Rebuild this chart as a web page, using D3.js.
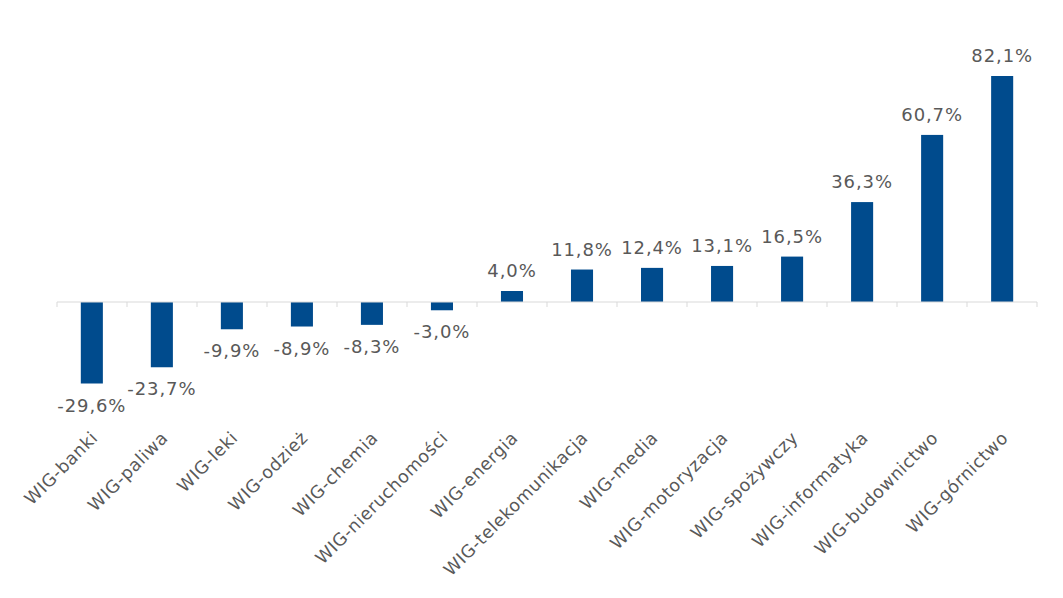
<!DOCTYPE html>
<html>
<head>
<meta charset="utf-8">
<script src="https://cdn.jsdelivr.net/npm/d3@7"></script>
<style>
  body { margin: 0; background: #fff; }
  text { font-family: "DejaVu Sans", Verdana, sans-serif; }
</style>
</head>
<body>
<svg id="chart" width="1063" height="598"></svg>
<script>
const categories = ["WIG-banki","WIG-paliwa","WIG-leki","WIG-odzież","WIG-chemia","WIG-nieruchomości","WIG-energia","WIG-telekomunikacja","WIG-media","WIG-motoryzacja","WIG-spożywczy","WIG-informatyka","WIG-budownictwo","WIG-górnictwo"];
const values = [-29.6,-23.7,-9.9,-8.9,-8.3,-3.0,4.0,11.8,12.4,13.1,16.5,36.3,60.7,82.1];

const svg = d3.select("#chart");
const x = d3.scaleBand().domain(categories).range([57, 1037]).paddingInner(0.685).paddingOuter(0.34);
const y = d3.scaleLinear().domain([-29.6, 82.1]).range([383.5, 76]);

const fmt = v => (v < 0 ? "-" : "") + Math.abs(v).toFixed(1).replace(".", ",") + "%";

// bars
svg.append("g").selectAll("rect").data(values).join("rect")
  .attr("x", (d,i) => x(categories[i]))
  .attr("width", x.bandwidth())
  .attr("y", d => y(Math.max(0, d)))
  .attr("height", d => Math.abs(y(d) - y(0)))
  .attr("fill", "#004B8D");

// axis line and ticks at band boundaries
const x0 = 57, x1 = 1037;
const axis = svg.append("g");
axis.append("line").attr("x1", x0).attr("x2", x1).attr("y1", y(0)).attr("y2", y(0))
  .attr("stroke", "#d9d9d9").attr("stroke-width", 1);
axis.selectAll("line.tick").data(d3.range(categories.length + 1)).join("line")
  .attr("class", "tick")
  .attr("x1", i => x0 + i * (x1 - x0) / categories.length)
  .attr("x2", i => x0 + i * (x1 - x0) / categories.length)
  .attr("y1", y(0)).attr("y2", y(0) + 5)
  .attr("stroke", "#d9d9d9").attr("stroke-width", 1);

// value labels
svg.append("g").selectAll("text").data(values).join("text")
  .attr("x", (d,i) => x(categories[i]) + x.bandwidth() / 2)
  .attr("y", d => d >= 0 ? y(d) - 14 : y(d) + 28)
  .attr("text-anchor", "middle")
  .attr("font-family", "DejaVu Sans")
  .attr("font-size", 18)
  .attr("letter-spacing", 0.9)
  .attr("fill", "#595959")
  .text(d => fmt(d));

// category labels
svg.append("g").selectAll("text").data(categories).join("text")
  .attr("transform", d => `translate(${x(d) + x.bandwidth()/2 + 7},${439}) rotate(-45)`)
  .attr("text-anchor", "end")
  .attr("font-family", "DejaVu Sans")
  .attr("font-size", 17.5)
  .attr("letter-spacing", 0.5)
  .attr("fill", "#595959")
  .text(d => d);
</script>
</body>
</html>
